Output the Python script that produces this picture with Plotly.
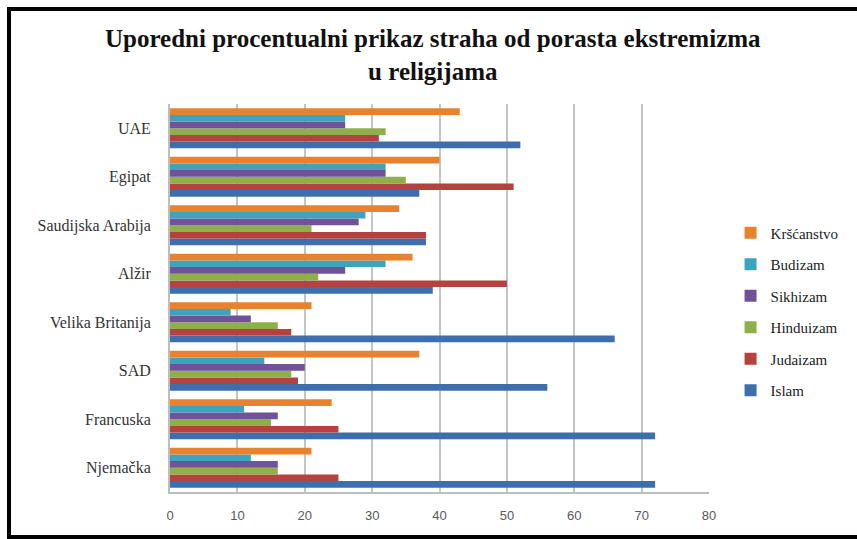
import plotly.graph_objects as go

# DATA ---------------------------------
zemlje = ['Njemačka', 'Francuska', 'SAD', 'Velika Britanija', 'Alžir',
          'Saudijska Arabija', 'Egipat', 'UAE']

islam = [72, 72, 56, 66, 39, 38, 37, 52]
judaizam = [25, 25, 19, 18, 50, 38, 51, 31]
hinduizam = [16, 15, 18, 16, 22, 21, 35, 32]
sikhizam = [16, 16, 20, 12, 26, 28, 32, 26]
budizam = [12, 11, 14, 9, 32, 29, 32, 26]
krscanstvo = [21, 24, 37, 21, 36, 34, 40, 43]

serije = [
    ('Islam', islam, '#3E6EAE'),
    ('Judaizam', judaizam, '#B5423F'),
    ('Hinduizam', hinduizam, '#8EB04B'),
    ('Sikhizam', sikhizam, '#6F5297'),
    ('Budizam', budizam, '#3FA2BE'),
    ('Kršćanstvo', krscanstvo, '#E8822F'),
]

# FIGURE ---------------------------------
fig = go.Figure()

for i, (ime, vrijednosti, boja) in enumerate(serije):
    fig.add_trace(go.Bar(
        y=zemlje, x=vrijednosti, name=ime, orientation='h',
        marker=dict(color=boja, line=dict(width=0)),
        legendgroup=ime, legendrank=len(serije) - i,
    ))

serif = 'Liberation Serif'

W, H = 857, 539
L, T = 170, 104
R = W - 709
B = H - 492

fig.update_layout(
    width=W, height=H,
    font=dict(family=serif, color='#222222'),
    barmode='group', bargap=0.18, bargroupgap=0,
    plot_bgcolor='white', paper_bgcolor='white',
    margin=dict(l=L, r=R, t=T, b=B, autoexpand=False),
    title=dict(
        text='<b>Uporedni procentualni prikaz straha od porasta ekstremizma<br>u religijama</b>',
        x=0.505, xanchor='center', xref='container',
        y=0.912, yanchor='middle', yref='container',
        font=dict(family=serif, size=25, color='#111111'),
    ),
    legend=dict(
        x=1.04, xanchor='left', y=0.465, yanchor='middle',
        traceorder='grouped', tracegroupgap=9,
        font=dict(family=serif, size=15, color='#222222'),
        itemwidth=30,
    ),
    showlegend=True,
)

fig.update_xaxes(
    range=[0, 80], dtick=10, tick0=0, automargin=False,
    showgrid=True, gridcolor='#C4C4C4', gridwidth=2,
    showline=True, linecolor='#BDBDBD', linewidth=2,
    zeroline=False, ticks='', ticklabelstandoff=10,
    tickfont=dict(family='Liberation Sans', size=13, color='#595959'),
)
fig.update_yaxes(
    showgrid=False, showline=True, linecolor='#BDBDBD', linewidth=2,
    ticks='', ticklabelstandoff=14, automargin=False,
    tickfont=dict(family=serif, size=16, color='#333333'),
)

# outer frame of the picture: top, left and bottom only
w_plot = W - L - R
h_plot = H - T - B
def px_x(p):
    return (p - L) / w_plot
def px_y(p):
    return (H - B - p) / h_plot

okvir = [
    (7, 9, W, 9),      # top
    (9, 7, 9, 539),    # left
    (7, 537, W, 537),  # bottom
]
for x0, y0, x1, y1 in okvir:
    fig.add_shape(
        type='line', xref='paper', yref='paper', layer='above',
        x0=px_x(x0), y0=px_y(y0), x1=px_x(x1), y1=px_y(y1),
        line=dict(color='black', width=4),
    )

# drop the default page margin so the figure fills the window
fig.write_html(
    'out.html',
    config={'displayModeBar': False},
    post_script="document.body.style.margin='0';"
                "document.documentElement.style.overflow='hidden';",
)
